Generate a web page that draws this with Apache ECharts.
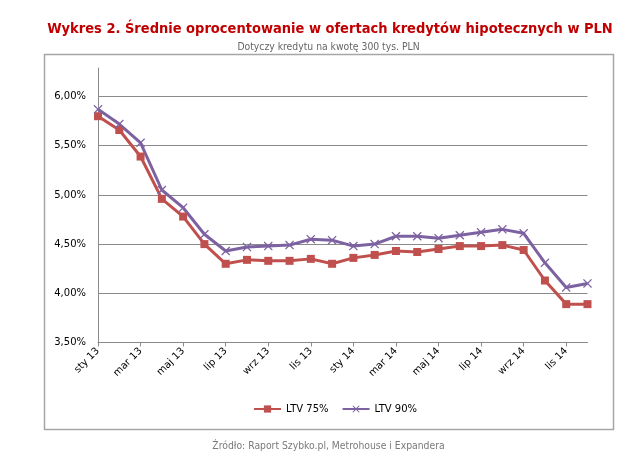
<!DOCTYPE html>
<html><head><meta charset="utf-8">
<script src="https://cdn.jsdelivr.net/npm/echarts@6/dist/echarts.min.js"></script>
<style>html,body{margin:0;padding:0;background:#fff}#c{width:640px;height:471px}</style>
</head><body><div id="c"></div>
<script>
const months = ['sty 13','lut 13','mar 13','kwi 13','maj 13','cze 13','lip 13','sie 13','wrz 13','paź 13','lis 13','gru 13',
                'sty 14','lut 14','mar 14','kwi 14','maj 14','cze 14','lip 14','sie 14','wrz 14','paź 14','lis 14','gru 14'];
const ltv75 = [5.80,5.66,5.39,4.96,4.78,4.50,4.30,4.34,4.33,4.33,4.35,4.30,4.36,4.39,4.43,4.42,4.45,4.48,4.48,4.49,4.44,4.13,3.89,3.89];
const ltv90 = [5.87,5.72,5.53,5.05,4.87,4.60,4.43,4.47,4.48,4.49,4.55,4.54,4.48,4.50,4.58,4.58,4.56,4.59,4.62,4.65,4.61,4.31,4.06,4.10];
const seriesNames = ['LTV 75%','LTV 90%'];
const yTicks = [3.5,4.0,4.5,5.0,5.5,6.0];
const yTop = 6.29;

const chart = echarts.init(document.getElementById('c'), null, {renderer:'canvas'});
const xSym = 'path://M0,1L1,0L5,4L9,0L10,1L6,5L10,9L9,10L5,6L1,10L0,9L4,5Z';
const gridColor = '#8a8a8a';
chart.setOption({
  animation:false,
  title:[
    {text:'Wykres 2. Średnie oprocentowanie w ofertach kredytów hipotecznych w PLN', left:325, textAlign:'center', top:17,
     textStyle:{fontFamily:'DejaVu Sans Condensed', fontWeight:'bold', fontSize:14.5, color:'#c00000'}},
    {text:'Dotyczy kredytu na kwotę 300 tys. PLN', left:323.5, textAlign:'center', top:37,
     textStyle:{fontFamily:'DejaVu Sans Condensed', fontWeight:'normal', fontSize:10.3, color:'#666'}},
    {text:'Źródło: Raport Szybko.pl, Metrohouse i Expandera', left:323.5, textAlign:'center', top:436,
     textStyle:{fontFamily:'DejaVu Sans Condensed', fontWeight:'normal', fontSize:10.3, color:'#7a7a7a'}}
  ],
  graphic:[{type:'rect', shape:{x:44.5,y:54.5,width:569,height:375}, style:{fill:'none', stroke:'#a6a6a6', lineWidth:1.5}, silent:true, z:-10}],
  legend:{left:248, top:399, itemWidth:27, itemHeight:9, itemGap:13,
    textStyle:{fontFamily:'DejaVu Sans', fontSize:10, color:'#000'}, data:seriesNames},
  grid:{left:98, right:52.5, top:68, bottom:128.5},
  xAxis:{type:'category', data:months, boundaryGap:false,
    axisLine:{lineStyle:{color:gridColor, width:1}},
    axisTick:{interval:1, length:4, lineStyle:{color:gridColor}},
    axisLabel:{interval:1, rotate:45, margin:7, fontFamily:'DejaVu Sans', fontSize:10, color:'#000'}},
  yAxis:{type:'value', min:yTicks[0], max:yTop, interval:0.5,
    axisLine:{show:true, lineStyle:{color:gridColor, width:1}},
    axisTick:{show:false},
    splitLine:{show:false},
    axisLabel:{showMaxLabel:false, margin:12, fontFamily:'DejaVu Sans', fontSize:10, color:'#000',
      formatter:v=>v.toFixed(2).replace('.',',')+'%'}},
  series:[
    {name:seriesNames[0], type:'line', data:ltv75, symbol:'rect', symbolSize:8,
     lineStyle:{color:'#c0504d', width:3}, itemStyle:{color:'#c0504d'},
     markLine:{silent:true, symbol:'none', label:{show:false}, z:0,
       lineStyle:{color:gridColor, type:'solid', width:1},
       data:yTicks.slice(1).map(v=>({yAxis:v}))}},
    {name:seriesNames[1], type:'line', data:ltv90, symbol:xSym, symbolSize:9,
     lineStyle:{color:'#7d62a1', width:3}, itemStyle:{color:'#7d62a1'}}
  ]
});
</script></body></html>
